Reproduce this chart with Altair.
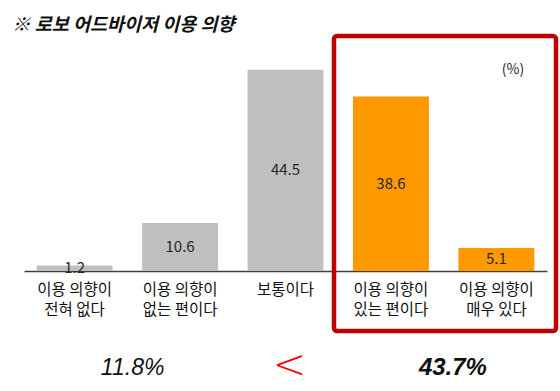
import altair as alt
import pandas as pd

categories = ["이용 의향이\n전혀 없다", "이용 의향이\n없는 편이다", "보통이다",
              "이용 의향이\n있는 편이다", "이용 의향이\n매우 있다"]
values = [1.2, 10.6, 44.5, 38.6, 5.1]
groups = ["no", "no", "mid", "yes", "yes"]
title_text = "※ 로보 어드바이저 이용 의향"
unit_text = "(%)"
sum_no = "11.8%"
sum_yes = "43.7%"
compare = "<"

KR = "Noto Sans CJK KR"
NUM = "Liberation Sans"

df = pd.DataFrame({"cat": categories, "value": values, "group": groups})

x = alt.X("cat:N", sort=categories, title=None,
          scale=alt.Scale(paddingInner=0.28, paddingOuter=0.12),
          axis=alt.Axis(labelExpr="split(datum.label, '\\n')", labelAngle=0,
                        labelFont=KR, labelFontSize=15.5, labelColor="#111111",
                        labelLineHeight=20, labelPadding=11, ticks=False,
                        domainColor="#404040", domainWidth=1.5, grid=False))
y = alt.Y("value:Q", scale=alt.Scale(domain=[0, 50]), axis=None)

base = alt.Chart(df)

bars = base.mark_bar().encode(
    x=x, y=y,
    color=alt.Color("group:N", scale=alt.Scale(domain=["no", "mid", "yes"],
                    range=["#BFBFBF", "#BFBFBF", "#FF9900"]), legend=None),
)

labels = base.transform_calculate(mid="datum.value / 2").mark_text(
    font=KR, fontSize=15, color="#262626", baseline="middle"
).encode(x=x, y=alt.Y("mid:Q", scale=alt.Scale(domain=[0, 50]), axis=None),
         text=alt.Text("value:Q", format=".1f"))

box = alt.Chart(pd.DataFrame({"k": [0]})).mark_rect(
    fill=None, stroke="#C00000", strokeWidth=4.5, cornerRadius=3
).encode(x=alt.value(310), x2=alt.value(532), y=alt.value(-9), y2=alt.value(286))

title = alt.Chart(pd.DataFrame({"t": [title_text]})).mark_text(
    font=KR, fontSize=18.5, fontStyle="italic", fontWeight="bold", align="left",
    baseline="middle", color="#111111"
).encode(x=alt.value(-12), y=alt.value(-20), text="t:N")

unit = alt.Chart(pd.DataFrame({"t": [unit_text]})).mark_text(
    font=KR, fontSize=14, color="#262626", baseline="middle"
).encode(x=alt.value(489), y=alt.value(25), text="t:N")

sdf = pd.DataFrame({"cat": [categories[0]], "t": [sum_no]})
s1 = alt.Chart(sdf).mark_text(
    font=NUM, fontSize=23, fontStyle="italic", color="#111111",
    baseline="middle", dx=58
).encode(x=x, y=alt.value(323), text="t:N")

cdf = pd.DataFrame({"cat": [categories[2]], "t": [compare]})
s2 = alt.Chart(cdf).mark_text(
    font="DejaVu Sans", fontSize=40, fontWeight=200, color="#FF0000",
    baseline="middle", dx=4
).encode(x=x, y=alt.value(321), text="t:N")

ydf = pd.DataFrame({"cat": [categories[3]], "t": [sum_yes]})
s3 = alt.Chart(ydf).mark_text(
    font=NUM, fontSize=24, fontStyle="italic", fontWeight="bold",
    color="#111111", baseline="middle", dx=62
).encode(x=x, y=alt.value(323), text="t:N")

chart = alt.layer(bars, labels, box, title, unit, s1, s2, s3).properties(
    width=523, height=226,
    background="white",
    autosize=alt.AutoSizeParams(type="none"),
    padding={"left": 24, "top": 45, "right": 13, "bottom": 120},
).configure_view(stroke=None)

chart.save("out.html", embed_options={"renderer": "svg", "actions": False})
